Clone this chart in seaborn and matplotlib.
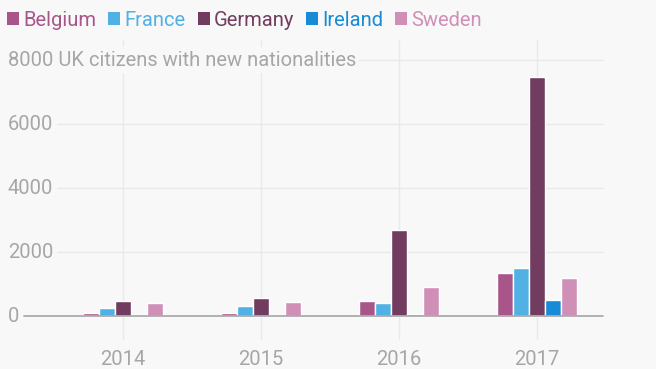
import matplotlib
matplotlib.use("Agg")
import matplotlib.pyplot as plt
import matplotlib.transforms as mtransforms
from matplotlib.patches import Patch
import seaborn as sns
import pandas as pd

# data
years = ["2014", "2015", "2016", "2017"]
countries = ["Belgium", "France", "Germany", "Ireland", "Sweden"]
belgium = [105, 105, 480, 1355]
france = [260, 325, 410, 1500]
germany = [470, 575, 2690, 7480]
ireland = [30, 30, 60, 510]
sweden = [415, 450, 905, 1200]
colors = ["#a8568a", "#51b1e4", "#713c5f", "#178bd6", "#d08fb7"]

y_ticks = [0, 2000, 4000, 6000]
title = "8000 UK citizens with new nationalities"

rows = []
for name, vals in zip(countries, [belgium, france, germany, ireland, sweden]):
    for yr, v in zip(years, vals):
        rows.append({"year": yr, "country": name, "value": v})
df = pd.DataFrame(rows)

bg = "#f8f8f8"
grey = "#a6a6a6"
sns.set_style("white")
plt.rcParams["font.family"] = ["Roboto", "DejaVu Sans"]

fig = plt.figure(figsize=(6.56, 3.69), dpi=100, facecolor=bg)
ax = fig.add_axes([54 / 656, 29 / 369, 552 / 656, 300 / 369])
ax.set_facecolor(bg)

sns.barplot(data=df, x="year", y="value", hue="country", order=years,
            hue_order=countries, palette=colors, width=0.58, gap=0.06,
            saturation=1, legend=False, ax=ax, zorder=3)

ax.set_xlim(-0.5, 3.5)
ax.set_ylim(-750, 8625)
for s in ax.spines.values():
    s.set_visible(False)

# gridlines
for y in y_ticks[1:] + [8000]:
    ax.axhline(y, xmin=0.005, xmax=0.995, color="#e9e9e9", lw=1, zorder=1)
for i in range(len(years)):
    ax.axvline(i, color="#e9e9e9", lw=1, zorder=1)
ax.plot([-0.72, 3.48], [0, 0], color="#ababab", lw=1.3, zorder=4, clip_on=False)

# y labels, left aligned at the figure edge
trans = mtransforms.blended_transform_factory(fig.transFigure, ax.transData)
for t in y_ticks:
    ax.text(8 / 656, t, f"{t}", transform=trans, ha="left", va="center",
            fontsize=14.5, color=grey)
ax.text(8 / 656, 8000, title, transform=trans, ha="left", va="center",
        fontsize=14.5, color=grey,
        bbox=dict(boxstyle="square,pad=0.15", fc=bg, ec="none"))

ax.set_yticks([])
ax.set_xticks(range(len(years)))
ax.set_xticklabels(years, fontsize=14.5, color=grey)
ax.tick_params(axis="x", length=0, pad=7)
ax.set_xlabel("")
ax.set_ylabel("")

handles = [Patch(facecolor=c, edgecolor="none") for c in colors]
leg = fig.legend(handles, countries, loc="upper left", bbox_to_anchor=(0.0, 0.99),
                 ncol=5, frameon=False, fontsize=14.5, handlelength=0.6,
                 handleheight=0.6, handletextpad=0.2, columnspacing=0.6,
                 borderaxespad=0.0, borderpad=0.35)
for txt, c in zip(leg.get_texts(), colors):
    txt.set_color(c)

fig.savefig("out.png", dpi=100, facecolor=bg)
